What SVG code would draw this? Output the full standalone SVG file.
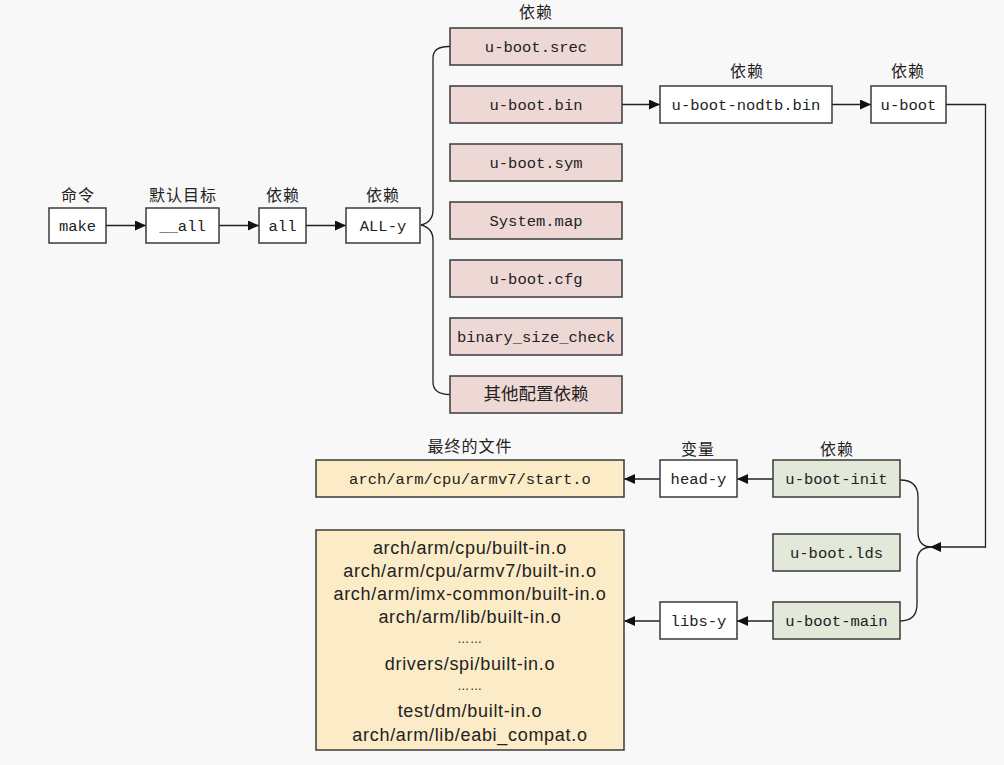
<svg xmlns="http://www.w3.org/2000/svg" width="1004" height="765" viewBox="0 0 1004 765">
<style>
.bg{fill:#f8f8f8}
.box{stroke:#3a3a3a;stroke-width:1.5}
.w{fill:#ffffff}
.p{fill:#eed8d5}
.g{fill:#e3e9d9}
.y{fill:#fbebc6}
.t{font-family:"Liberation Mono","Noto Sans CJK SC",monospace;font-size:15.5px;fill:#222;text-anchor:middle}
.cn{font-family:"Noto Sans CJK SC",sans-serif;font-size:16px;letter-spacing:1px;fill:#222;text-anchor:middle}
.cnb{font-family:"Noto Sans CJK SC",sans-serif;font-size:17.5px;fill:#222;text-anchor:middle}
.s{font-family:"Liberation Sans","Noto Sans CJK SC",sans-serif;font-size:18px;letter-spacing:0.7px;fill:#222;text-anchor:middle}
.ln{fill:none;stroke:#222;stroke-width:1.3}
</style>
<defs>
<marker id="ar" markerWidth="12" markerHeight="10" refX="11" refY="5" orient="auto" markerUnits="userSpaceOnUse">
<path d="M0,0 L11,5 L0,10 Z" fill="#111"/>
</marker>
</defs>
<rect class="bg" x="0" y="0" width="1004" height="765"/>

<g id="connectors">
<line class="ln" x1="106" y1="225.5" x2="146" y2="225.5" marker-end="url(#ar)"/>
<line class="ln" x1="219" y1="225.5" x2="259" y2="225.5" marker-end="url(#ar)"/>
<line class="ln" x1="306" y1="225.5" x2="346" y2="225.5" marker-end="url(#ar)"/>
<path class="ln" d="M421,225 Q433,222 433,210 L433,58 Q433,46 450,46.5"/>
<path class="ln" d="M421,225 Q433,228 433,240 L433,382 Q433,394.5 450,394.5"/>
<line class="ln" x1="622" y1="104.5" x2="660" y2="104.5" marker-end="url(#ar)"/>
<line class="ln" x1="832" y1="104.5" x2="871" y2="104.5" marker-end="url(#ar)"/>
<path class="ln" d="M946,104.5 L985.5,104.5 L985.5,547 L930,547" marker-end="url(#ar)"/>
<path class="ln" d="M900,480 Q918,480 918,497 L918,532 Q918,547 932,547"/>
<path class="ln" d="M900,621 Q917,621 917,604 L917,562 Q917,547 932,547"/>
<line class="ln" x1="773" y1="479" x2="737" y2="479" marker-end="url(#ar)"/>
<line class="ln" x1="660" y1="479" x2="624" y2="479" marker-end="url(#ar)"/>
<line class="ln" x1="773" y1="621" x2="737" y2="621" marker-end="url(#ar)"/>
<line class="ln" x1="660" y1="621" x2="624" y2="621" marker-end="url(#ar)"/>
</g>

<g id="make"><text class="cn" x="78" y="201">命令</text><rect class="box w" x="49" y="208" width="57" height="35"/><text class="t" x="77.5" y="231">make</text></g>
<g id="all_default"><text class="cn" x="183" y="201">默认目标</text><rect class="box w" x="146" y="208" width="73" height="35"/><text class="t" x="182.5" y="231">__all</text></g>
<g id="all"><text class="cn" x="283" y="201">依赖</text><rect class="box w" x="259" y="208" width="47" height="35"/><text class="t" x="282.5" y="231">all</text></g>
<g id="ALL-y"><text class="cn" x="383" y="201">依赖</text><rect class="box w" x="346" y="208" width="74" height="35"/><text class="t" x="383" y="231">ALL-y</text></g>

<g id="deps-label"><text class="cn" x="536" y="18">依赖</text></g>
<g id="u-boot-srec"><rect class="box p" x="450" y="28" width="172" height="37"/><text class="t" x="536" y="52">u-boot.srec</text></g>
<g id="u-boot-bin"><rect class="box p" x="450" y="86" width="172" height="37"/><text class="t" x="536" y="110">u-boot.bin</text></g>
<g id="u-boot-sym"><rect class="box p" x="450" y="144" width="172" height="37"/><text class="t" x="536" y="168">u-boot.sym</text></g>
<g id="System-map"><rect class="box p" x="450" y="202" width="172" height="37"/><text class="t" x="536" y="226">System.map</text></g>
<g id="u-boot-cfg"><rect class="box p" x="450" y="260" width="172" height="37"/><text class="t" x="536" y="284">u-boot.cfg</text></g>
<g id="binary_size_check"><rect class="box p" x="450" y="318" width="172" height="37"/><text class="t" x="536" y="342">binary_size_check</text></g>
<g id="other"><rect class="box p" x="450" y="376" width="172" height="37"/><text class="cnb" x="536" y="400">其他配置依赖</text></g>

<g id="u-boot-nodtb"><text class="cn" x="747" y="77">依赖</text><rect class="box w" x="660" y="86" width="172" height="37"/><text class="t" x="746" y="110">u-boot-nodtb.bin</text></g>
<g id="u-boot"><text class="cn" x="908" y="77">依赖</text><rect class="box w" x="871" y="86" width="75" height="37"/><text class="t" x="908.5" y="110">u-boot</text></g>

<g id="u-boot-init"><text class="cn" x="837" y="455">依赖</text><rect class="box g" x="773" y="460" width="127" height="37"/><text class="t" x="836.5" y="484">u-boot-init</text></g>
<g id="u-boot-lds"><rect class="box g" x="773" y="534" width="127" height="37"/><text class="t" x="836.5" y="558">u-boot.lds</text></g>
<g id="u-boot-main"><rect class="box g" x="773" y="602" width="127" height="37"/><text class="t" x="836.5" y="626">u-boot-main</text></g>

<g id="head-y"><text class="cn" x="698" y="455">变量</text><rect class="box w" x="660" y="460" width="77" height="37"/><text class="t" x="698.5" y="484">head-y</text></g>
<g id="libs-y"><rect class="box w" x="660" y="602" width="77" height="37"/><text class="t" x="698.5" y="626">libs-y</text></g>

<g id="start-o"><text class="cn" x="470" y="452">最终的文件</text><rect class="box y" x="316" y="460" width="308" height="37"/><text class="t" x="470" y="484">arch/arm/cpu/armv7/start.o</text></g>
<g id="builtins"><rect class="box y" x="316" y="530" width="308" height="220"/>
<text class="s" x="470" y="554">arch/arm/cpu/built-in.o</text>
<text class="s" x="470" y="577">arch/arm/cpu/armv7/built-in.o</text>
<text class="s" x="470" y="600">arch/arm/imx-common/built-in.o</text>
<text class="s" x="470" y="623">arch/arm/lib/built-in.o</text>
<text class="s" x="470" y="643" style="font-size:12px">……</text>
<text class="s" x="470" y="670">drivers/spi/built-in.o</text>
<text class="s" x="470" y="690" style="font-size:12px">……</text>
<text class="s" x="470" y="717">test/dm/built-in.o</text>
<text class="s" x="470" y="741">arch/arm/lib/eabi_compat.o</text>
</g>
</svg>
